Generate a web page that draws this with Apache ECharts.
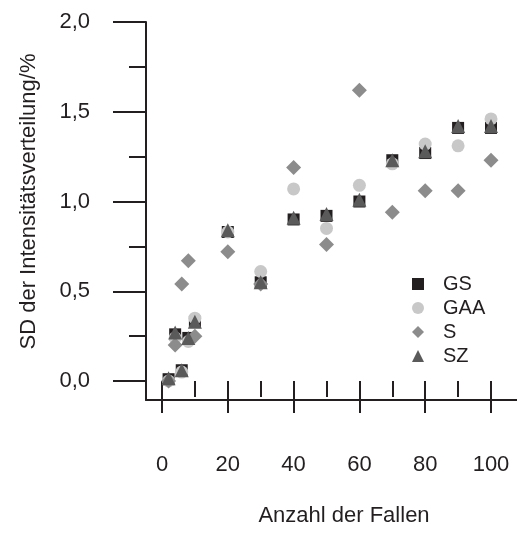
<!DOCTYPE html>
<html>
<head>
<meta charset="utf-8">
<script src="https://cdn.jsdelivr.net/npm/echarts@6/dist/echarts.min.js"></script>
<style>
html,body{margin:0;padding:0;background:#fff;}
#chart{width:517px;height:535px;}
</style>
</head>
<body>
<div id="chart"></div>
<script>
// Number of traps (x)
const xValues = [2, 4, 6, 8, 10, 20, 30, 40, 50, 60, 70, 80, 90, 100];
// SD der Intensitätsverteilung / %
const gsValues  = [0.01, 0.26, 0.06, 0.24, 0.33, 0.83, 0.55, 0.90, 0.92, 1.00, 1.23, 1.27, 1.41, 1.41];
const gaaValues = [0.00, 0.24, 0.05, 0.22, 0.35, 0.83, 0.61, 1.07, 0.85, 1.09, 1.21, 1.32, 1.31, 1.46];
const sValues   = [0.00, 0.20, 0.54, 0.67, 0.25, 0.72, 0.54, 1.19, 0.76, 1.62, 0.94, 1.06, 1.06, 1.23];
const szValues  = [0.015, 0.27, 0.06, 0.24, 0.33, 0.84, 0.55, 0.91, 0.93, 1.01, 1.23, 1.28, 1.42, 1.42];
const seriesNames = ['GS', 'GAA', 'S', 'SZ'];
const xTickLabels = [0, 20, 40, 60, 80, 100];
const yTickLabels = ['0,0', '0,5', '1,0', '1,5', '2,0'];
const xTitle = 'Anzahl der Fallen';
const yTitle = 'SD der Intensitätsverteilung/%';

const INK = '#231f20';
const FONT = "'Liberation Sans', Arial, Helvetica, sans-serif";
const pair = (vals) => xValues.map((x, i) => [x, vals[i]]);

const chart = echarts.init(document.getElementById('chart'), null, {renderer: 'canvas'});
chart.setOption({
  animation: false,
  backgroundColor: '#ffffff',
  textStyle: {fontFamily: FONT, color: INK},
  title: {
    text: xTitle,
    left: 339, top: 500, textAlign: 'center',
    textStyle: {fontFamily: FONT, fontSize: 22, fontWeight: 'normal', color: INK}
  },
  grid: [
    {left: 162, right: 26, top: 22, bottom: 135},           // data
    {left: 146, top: 22, width: 10, height: 359},           // y ticks / labels
    {left: 146, right: 0, top: 22, bottom: 135}             // axis lines
  ],
  xAxis: [
    {
      gridIndex: 0, type: 'value', min: 0, max: 100, interval: 20,
      axisLine: {show: false},
      axisTick: {show: true, length: 32, lineStyle: {color: INK, width: 2}},
      minorTick: {show: true, splitNumber: 2, length: 16, lineStyle: {color: INK, width: 2}},
      splitLine: {show: false}, minorSplitLine: {show: false},
      axisLabel: {
        margin: 54, fontSize: 22, color: INK, fontFamily: FONT,
        formatter: (v) => xTickLabels.indexOf(v) >= 0 ? String(v) : ''
      }
    },
    {gridIndex: 1, type: 'value', show: false, min: 0, max: 1},
    {
      gridIndex: 2, type: 'value', min: 0, max: 1,
      axisLine: {show: true, lineStyle: {color: INK, width: 2}},
      axisTick: {show: false}, axisLabel: {show: false}, splitLine: {show: false}
    }
  ],
  yAxis: [
    {gridIndex: 0, type: 'value', min: -0.1058, max: 2.0, show: false, splitLine: {show: false}},
    {
      gridIndex: 1, type: 'value', min: 0, max: 2, interval: 0.5,
      axisLine: {show: false},
      axisTick: {show: true, length: 33, lineStyle: {color: INK, width: 2}},
      minorTick: {show: true, splitNumber: 2, length: 17, lineStyle: {color: INK, width: 2}},
      splitLine: {show: false}, minorSplitLine: {show: false},
      axisLabel: {
        margin: 56, fontSize: 22, color: INK, fontFamily: FONT,
        formatter: (v) => yTickLabels[Math.round(v / 0.5)]
      },
      name: yTitle, nameLocation: 'middle', nameGap: 106,
      nameTextStyle: {fontSize: 22, color: INK, fontFamily: FONT}
    },
    {
      gridIndex: 2, type: 'value', min: 0, max: 1,
      axisLine: {show: true, lineStyle: {color: INK, width: 2}},
      axisTick: {show: false}, axisLabel: {show: false}, splitLine: {show: false}
    }
  ],
  legend: {
    orient: 'vertical', left: 407, top: 269,
    itemWidth: 12, itemHeight: 12, itemGap: 4,
    symbolKeepAspect: true,
    data: [
      {name: seriesNames[0], icon: 'rect'},
      {name: seriesNames[1], icon: 'circle'},
      {name: seriesNames[2], icon: 'diamond'},
      {name: seriesNames[3], icon: 'triangle'}
    ],
    textStyle: {fontSize: 20, color: INK, fontFamily: FONT, padding: [0, 0, 0, 14]}
  },
  series: [
    {name: seriesNames[0], type: 'scatter', xAxisIndex: 0, yAxisIndex: 0, symbol: 'rect', symbolSize: 12,
     itemStyle: {color: '#231f20', opacity: 1}, data: pair(gsValues)},
    {name: seriesNames[1], type: 'scatter', xAxisIndex: 0, yAxisIndex: 0, symbol: 'circle', symbolSize: 13,
     itemStyle: {color: '#c8c8c8', opacity: 1}, data: pair(gaaValues)},
    {name: seriesNames[2], type: 'scatter', xAxisIndex: 0, yAxisIndex: 0, symbol: 'diamond', symbolSize: 15,
     itemStyle: {color: '#8c8c8c', opacity: 1}, data: pair(sValues)},
    {name: seriesNames[3], type: 'scatter', xAxisIndex: 0, yAxisIndex: 0, symbol: 'triangle', symbolSize: 14,
     itemStyle: {color: '#5a5a5a', opacity: 1}, data: pair(szValues)}
  ]
});
</script>
</body>
</html>
